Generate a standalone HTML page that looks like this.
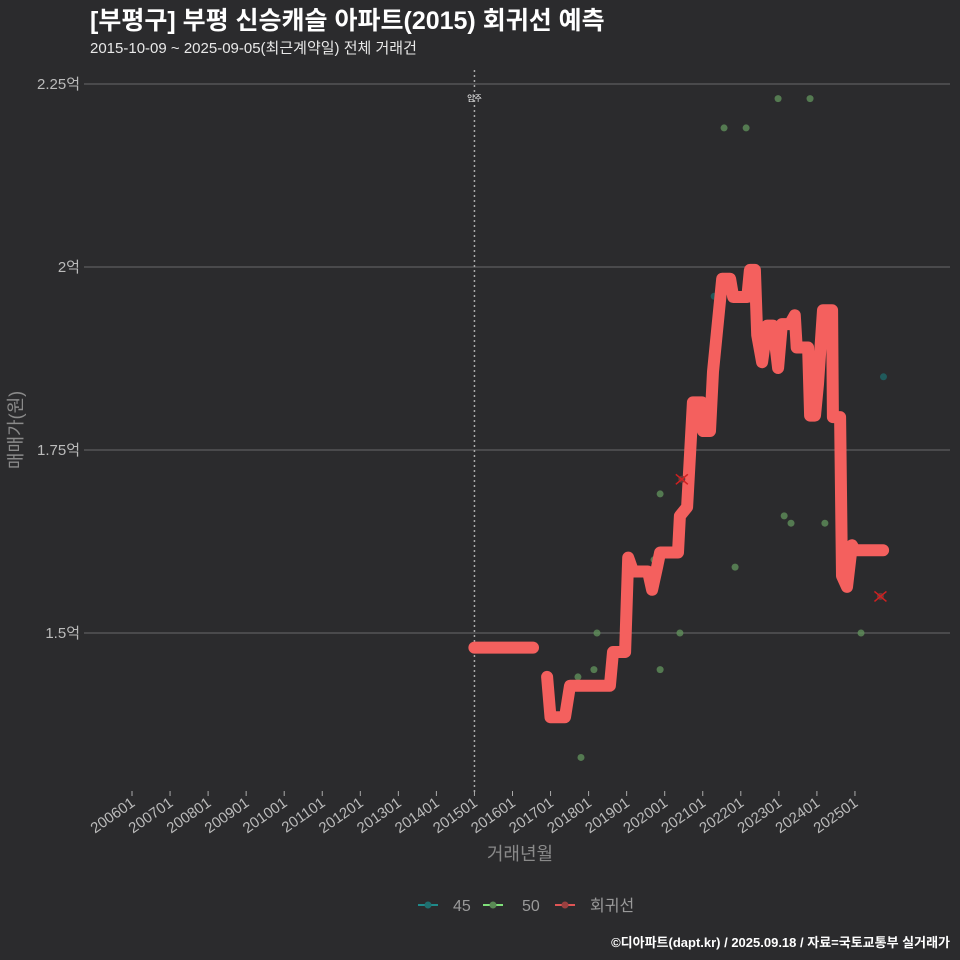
<!DOCTYPE html>
<html><head><meta charset="utf-8"><style>
body{margin:0;background:#2b2b2d;}
svg{display:block;font-family:"Liberation Sans","Noto Sans CJK KR",sans-serif;}
</style></head><body>
<svg id="chart" width="960" height="960" viewBox="0 0 960 960">
<rect width="960" height="960" fill="#2b2b2d"/>
<text x="90" y="29" fill="#ffffff" font-size="25" font-weight="bold">[부평구] 부평 신승캐슬 아파트(2015) 회귀선 예측</text>
<text x="90" y="53" fill="#e8e8e8" font-size="15">2015-10-09 ~ 2025-09-05(최근계약일) 전체 거래건</text>
<g id="grid"></g>
<g id="xaxis"></g>
<g id="marks"></g>
<text transform="translate(22,430) rotate(-90)" text-anchor="middle" fill="#8a8a8a" font-size="18">매매가(원)</text>
<text x="520" y="860" text-anchor="middle" fill="#8a8a8a" font-size="18">거래년월</text>
<g>
<g><line x1="418" y1="905" x2="438" y2="905" stroke="#1f8a8a" stroke-width="2"/><circle cx="428" cy="905" r="3.5" fill="#1f6f6f"/><text x="453" y="911" fill="#9a9a9a" font-size="16">45</text></g>
<g><line x1="483" y1="905" x2="503" y2="905" stroke="#7fe07a" stroke-width="2"/><circle cx="493" cy="905" r="3.5" fill="#5a8a55"/><text x="522" y="911" fill="#9a9a9a" font-size="16">50</text></g>
<g><line x1="555" y1="905" x2="575" y2="905" stroke="#e05555" stroke-width="2"/><circle cx="565" cy="905" r="3.5" fill="#9a4040"/><text x="590" y="911" fill="#9a9a9a" font-size="16">회귀선</text></g>
</g>
<text x="950" y="947" text-anchor="end" fill="#ffffff" font-size="13" font-weight="bold">©디아파트(dapt.kr) / 2025.09.18 / 자료=국토교통부 실거래가</text>
</svg>
<script>
const yTicks=[1.5,1.75,2,2.25];
const yTickLabels=["1.5억","1.75억","2억","2.25억"];
const xTickYears=[2006,2007,2008,2009,2010,2011,2012,2013,2014,2015,2016,2017,2018,2019,2020,2021,2022,2023,2024,2025];
const xTickLabels=["200601","200701","200801","200901","201001","201101","201201","201301","201401","201501","201601","201701","201801","201901","202001","202101","202201","202301","202401","202501"];
const lineYears1=[2015.0,2016.54];
const lineValues1=[1.48,1.48];
const lineYears2=[2016.91,2017.0,2017.38,2017.51,2018.56,2018.64,2018.96,2019.04,2019.17,2019.56,2019.67,2019.80,2019.88,2020.35,2020.40,2020.59,2020.74,2020.98,2021.01,2021.19,2021.27,2021.51,2021.72,2021.80,2022.17,2022.24,2022.37,2022.43,2022.56,2022.69,2022.85,2022.98,2023.08,2023.29,2023.42,2023.47,2023.77,2023.82,2023.95,2024.03,2024.16,2024.40,2024.42,2024.61,2024.66,2024.79,2024.92,2025.00,2025.74];
const lineValues2=[1.44,1.385,1.385,1.428,1.428,1.474,1.474,1.603,1.584,1.584,1.559,1.59,1.61,1.61,1.66,1.672,1.815,1.815,1.776,1.776,1.857,1.984,1.984,1.959,1.959,1.996,1.996,1.907,1.87,1.92,1.92,1.862,1.922,1.922,1.934,1.89,1.89,1.797,1.797,1.84,1.941,1.941,1.795,1.795,1.578,1.563,1.62,1.613,1.613];
const pts50Years=[2017.80,2017.72,2018.14,2018.22,2019.88,2019.88,2020.40,2021.56,2022.14,2021.85,2022.98,2023.82,2023.14,2023.32,2024.21,2025.16,2019.72];
const pts50Values=[1.33,1.44,1.45,1.5,1.45,1.69,1.5,2.19,2.19,1.59,2.23,2.23,1.66,1.65,1.65,1.5,1.6];
const pts45Years=[2021.30,2025.75];
const pts45Values=[1.96,1.85];
const outlierYears=[2020.45,2025.67];
const outlierValues=[1.71,1.55];
const moveInYear=2015.0;

const NS="http://www.w3.org/2000/svg";
const xs=y=>132+(y-2006)*38.05;
const ys=v=>84+(2.25-v)*732;
function mk(tag,attrs,parent){const e=document.createElementNS(NS,tag);for(const k in attrs)e.setAttribute(k,attrs[k]);parent.appendChild(e);return e;}
const grid=document.getElementById('grid'),xa=document.getElementById('xaxis'),marks=document.getElementById('marks');
yTicks.forEach((v,i)=>{
 const l=mk('line',{x1:84,x2:950,y1:ys(v),y2:ys(v),stroke:'#5e5e60','stroke-width':1.2},grid);
 
 
 const t=mk('text',{x:80,y:ys(v)+5,'text-anchor':'end',fill:'#bbbbbb','font-size':15},grid);
 t.textContent=yTickLabels[i];
 
 
});
xTickYears.forEach((yr,i)=>{
 const x=xs(yr);
 const tk=mk('line',{x1:x,x2:x,y1:791,y2:796,stroke:'#aaaaaa','stroke-width':1},xa);
 
 
 const t=mk('text',{transform:`translate(${x+4},${805}) rotate(-35)`,'text-anchor':'end',fill:'#bbbbbb','font-size':15},xa);
 t.textContent=xTickLabels[i];
 
 
});
const mv=mk('line',{x1:xs(moveInYear),x2:xs(moveInYear),y1:70,y2:792,stroke:'#aaaaaa','stroke-width':1.5,'stroke-dasharray':'2,3'},marks);


const mvt=mk('text',{x:xs(moveInYear),y:101,'text-anchor':'middle',fill:'#ffffff','font-size':8},marks);
mvt.textContent='입주';


pts50Years.forEach((yr,i)=>{
 const c=mk('circle',{cx:xs(yr),cy:ys(pts50Values[i]),r:3.5,fill:'#5f8f5a','fill-opacity':0.8},marks);
 
 
});
pts45Years.forEach((yr,i)=>{
 const c=mk('circle',{cx:xs(yr),cy:ys(pts45Values[i]),r:3.5,fill:'#1f5f60','fill-opacity':0.9},marks);
 
 
});
function path(yrs,vals){return yrs.map((y,i)=>(i?'L':'M')+xs(y).toFixed(1)+','+ys(vals[i]).toFixed(1)).join('');}
[[lineYears1,lineValues1],[lineYears2,lineValues2]].forEach(([a,b])=>{
 const p=mk('path',{d:path(a,b),fill:'none',stroke:'#f4605e','stroke-width':12,'stroke-linejoin':'round','stroke-linecap':'round'},marks);
 
 
});
outlierYears.forEach((yr,i)=>{
 const x=xs(yr),y=ys(outlierValues[i]);
 const g=mk('g',{},marks);
 
 
 mk('circle',{cx:x,cy:y,r:3.5,fill:'#6a3a3a'},g);
 mk('path',{d:`M${x-6},${y-5}L${x+6},${y+5}M${x-6},${y+5}L${x+6},${y-5}`,stroke:'#d02020','stroke-width':1.5},g);
});
</script>
</body></html>
